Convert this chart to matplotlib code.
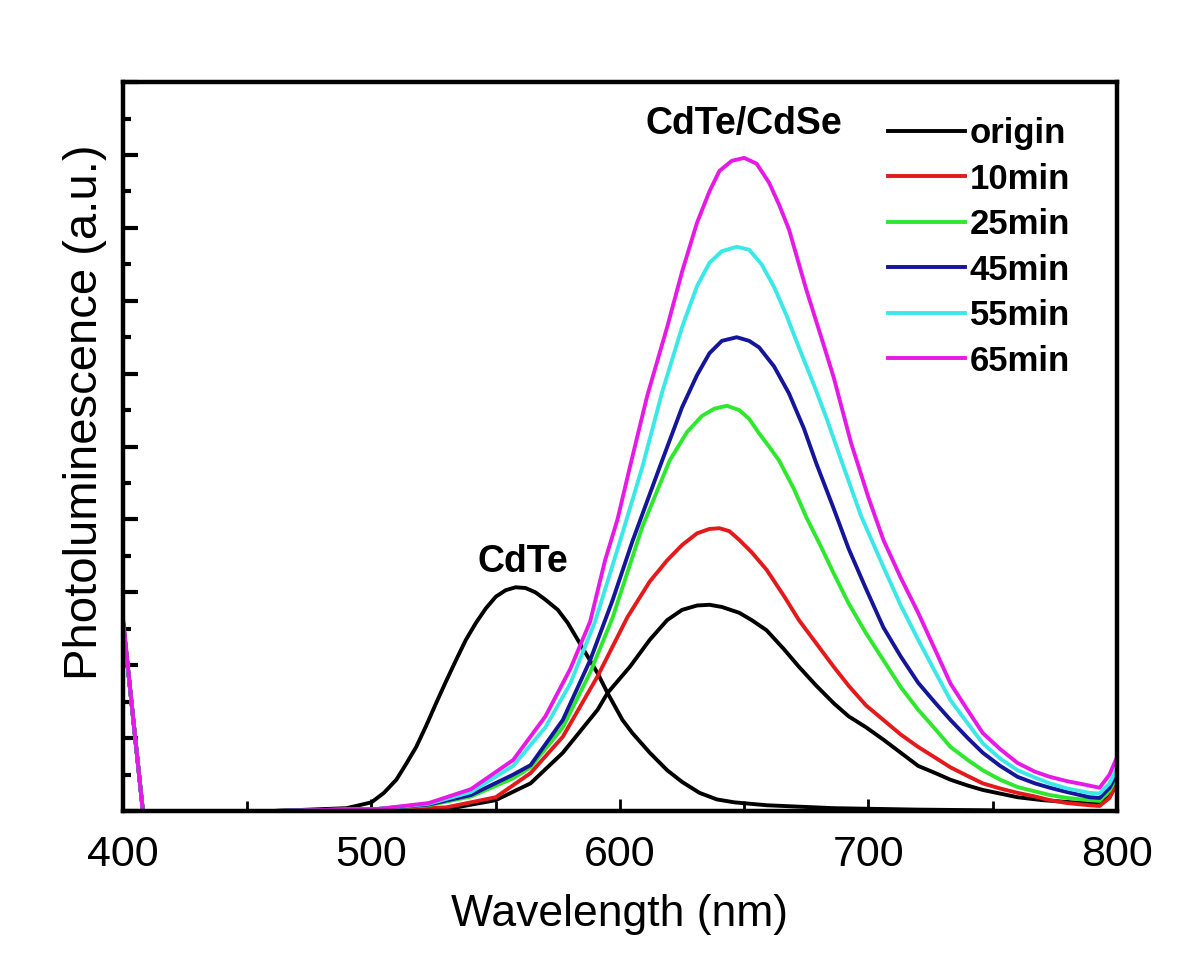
import numpy as np
import matplotlib
matplotlib.use('Agg')
import matplotlib.pyplot as plt
from matplotlib.ticker import MultipleLocator

plt.rcParams['font.family'] = ['Liberation Sans', 'DejaVu Sans']

# PL spectra (wavelength in nm, intensity in a.u.)
wl_origin = [400, 404, 408, 460, 490, 500, 505, 510, 514, 518, 522, 526, 530, 534, 538,
             542, 546, 550, 554, 558, 562, 566, 570, 575, 579, 583, 587, 591, 595, 601,
             605, 612, 619, 625, 632, 639, 646, 659, 686, 720, 750]
pl_origin = [2.6, 1.3, 0.0, 0.0, 0.04, 0.12, 0.25, 0.43, 0.65, 0.88, 1.17, 1.48, 1.78, 2.07, 2.35,
             2.58, 2.78, 2.94, 3.03, 3.07, 3.06, 3.0, 2.90, 2.76, 2.58, 2.35, 2.12, 1.89, 1.62, 1.25,
             1.07, 0.80, 0.56, 0.40, 0.25, 0.16, 0.12, 0.08, 0.04, 0.02, 0.01]

wl_core = [400, 404, 408, 458, 503, 520, 534, 550, 564, 577, 591, 595, 604, 612, 619, 625, 631,
           636, 641, 648, 653, 659, 666, 672, 679, 686, 692, 699, 706, 713, 720, 727, 733,
           740, 746, 753, 760, 770, 786, 793, 797, 800]
pl_core = [2.6, 1.3, 0.0, 0.0, 0.02, 0.03, 0.05, 0.15, 0.38, 0.80, 1.39, 1.62, 1.98, 2.35, 2.62, 2.76, 2.82,
           2.83, 2.80, 2.72, 2.62, 2.48, 2.22, 1.98, 1.72, 1.48, 1.30, 1.15, 0.98, 0.80, 0.62, 0.52, 0.43,
           0.35, 0.29, 0.24, 0.19, 0.15, 0.11, 0.10, 0.20, 0.38]

wl_10 = [400, 404, 408, 458, 503, 530, 550, 564, 577, 591, 603, 612, 619, 625, 631, 636, 640, 644,
         648, 653, 659, 666, 672, 679, 686, 692, 699, 706, 713, 720, 727, 733, 740, 746, 753,
         760, 767, 773, 780, 789, 793, 797, 800]
pl_10 = [2.6, 1.3, 0.0, 0.0, 0.02, 0.05, 0.19, 0.52, 1.02, 1.85, 2.66, 3.15, 3.44, 3.65, 3.81, 3.87, 3.88, 3.84,
         3.72, 3.55, 3.31, 2.95, 2.62, 2.30, 1.98, 1.72, 1.45, 1.25, 1.05, 0.88, 0.73, 0.60, 0.48, 0.38, 0.31,
         0.25, 0.20, 0.15, 0.11, 0.08, 0.07, 0.18, 0.38]

wl_25 = [400, 404, 408, 458, 503, 523, 540, 557, 564, 577, 588, 597, 609, 620, 627, 633, 638, 643,
         648, 652, 656, 660, 664, 670, 675, 681, 686, 692, 699, 706, 713, 720, 727, 733, 740,
         746, 753, 760, 767, 773, 780, 789, 793, 797, 800]
pl_25 = [2.6, 1.3, 0.0, 0.0, 0.03, 0.08, 0.20, 0.45, 0.60, 1.15, 1.90, 2.65, 3.90, 4.81, 5.20, 5.42, 5.52, 5.56,
         5.50, 5.38, 5.18, 5.00, 4.81, 4.42, 4.03, 3.62, 3.26, 2.85, 2.44, 2.07, 1.70, 1.39, 1.12, 0.88, 0.70,
         0.56, 0.43, 0.33, 0.27, 0.22, 0.18, 0.15, 0.14, 0.28, 0.47]

wl_45 = [400, 404, 408, 458, 503, 523, 540, 557, 564, 577, 588, 597, 605, 616, 625, 631, 636, 641,
         647, 652, 656, 662, 668, 674, 679, 686, 692, 699, 706, 713, 720, 727, 733, 740, 746,
         753, 760, 767, 773, 780, 789, 793, 797, 800]
pl_45 = [2.6, 1.3, 0.0, 0.0, 0.03, 0.09, 0.22, 0.50, 0.63, 1.25, 2.07, 2.89, 3.70, 4.72, 5.54, 5.98, 6.28, 6.45,
         6.50, 6.45, 6.36, 6.10, 5.73, 5.25, 4.77, 4.15, 3.60, 3.05, 2.52, 2.12, 1.76, 1.48, 1.25, 1.00, 0.80,
         0.62, 0.47, 0.38, 0.32, 0.26, 0.19, 0.18, 0.32, 0.52]

wl_55 = [400, 404, 408, 458, 503, 523, 540, 557, 570, 580, 590, 600, 609, 617, 625, 631, 636, 641,
         647, 652, 657, 662, 667, 672, 678, 683, 690, 697, 706, 713, 720, 727, 733, 740, 746,
         753, 760, 767, 773, 780, 789, 793, 797, 800]
pl_55 = [2.6, 1.3, 0.0, 0.0, 0.03, 0.10, 0.26, 0.62, 1.15, 1.75, 2.6, 3.7, 4.72, 5.75, 6.64, 7.2, 7.52, 7.68,
         7.74, 7.70, 7.50, 7.19, 6.80, 6.36, 5.85, 5.40, 4.72, 4.05, 3.35, 2.82, 2.35, 1.90, 1.52, 1.20, 0.93,
         0.72, 0.56, 0.46, 0.38, 0.31, 0.25, 0.24, 0.38, 0.58]

wl_65 = [400, 404, 408, 458, 503, 523, 540, 557, 570, 580, 588, 594, 599, 604, 611, 619, 625, 631,
         636, 640, 645, 650, 655, 660, 664, 668, 675, 681, 686, 693, 700, 706, 713, 720, 727,
         733, 740, 746, 753, 760, 767, 773, 780, 786, 793, 797, 800]
pl_65 = [2.65, 1.3, 0.0, 0.0, 0.03, 0.11, 0.30, 0.70, 1.30, 1.95, 2.60, 3.44, 4.0, 4.72, 5.70, 6.64, 7.40, 8.07,
         8.50, 8.78, 8.92, 8.96, 8.88, 8.62, 8.32, 7.98, 7.15, 6.50, 5.95, 5.05, 4.30, 3.72, 3.20, 2.72, 2.20,
         1.75, 1.38, 1.07, 0.85, 0.66, 0.54, 0.47, 0.41, 0.37, 0.32, 0.50, 0.74]

series = [
    ('origin', wl_origin, pl_origin, '#000000'),
    (None, wl_core, pl_core, '#000000'),
    ('10min', wl_10, pl_10, '#e3191b'),
    ('25min', wl_25, pl_25, '#2ee82e'),
    ('45min', wl_45, pl_45, '#151599'),
    ('55min', wl_55, pl_55, '#3ae8e8'),
    ('65min', wl_65, pl_65, '#e619e6'),
]

fig = plt.figure(figsize=(12, 9.61), dpi=100)
ax = fig.add_axes([0.1025, 0.156, 0.8283, 0.7586])

handles = []
for label, wl, pl, color in series:
    line, = ax.plot(wl, pl, color=color, lw=2.8)
    if label is not None:
        line.set_label(label)
        handles.append(line)

ax.set_xlim(400, 800)
ax.set_ylim(0, 10)
ax.xaxis.set_major_locator(MultipleLocator(100))
ax.xaxis.set_minor_locator(MultipleLocator(50))
ax.yaxis.set_major_locator(MultipleLocator(1))
ax.yaxis.set_minor_locator(MultipleLocator(0.5))

ax.tick_params(axis='y', which='major', direction='in', length=11, width=3, labelleft=False)
ax.tick_params(axis='y', which='minor', direction='in', length=6, width=3)
ax.tick_params(axis='x', which='major', direction='in', length=9, width=2, labelsize=31, pad=17)
ax.tick_params(axis='x', which='minor', direction='in', length=7, width=2)
for side in ax.spines.values():
    side.set_linewidth(3.2)

ax.set_xlabel('Wavelength (nm)', fontsize=32, labelpad=14)
ax.set_ylabel('Photoluminescence (a.u.)', fontsize=34)
ax.yaxis.set_label_coords(-0.016, 0.547)

ax.text(650, 9.43, 'CdTe/CdSe', fontsize=27, fontweight='bold', ha='center', va='center')
ax.text(561, 3.42, 'CdTe', fontsize=27, fontweight='bold', ha='center', va='center')

ax.legend(handles=handles, loc='upper left', bbox_to_anchor=(0.77, 0.952),
          frameon=False, prop={'size': 25, 'weight': 'bold'}, handlelength=2.2,
          handletextpad=0.15, labelspacing=0.36, borderpad=0, borderaxespad=0)

fig.savefig('out.png', dpi=100)
